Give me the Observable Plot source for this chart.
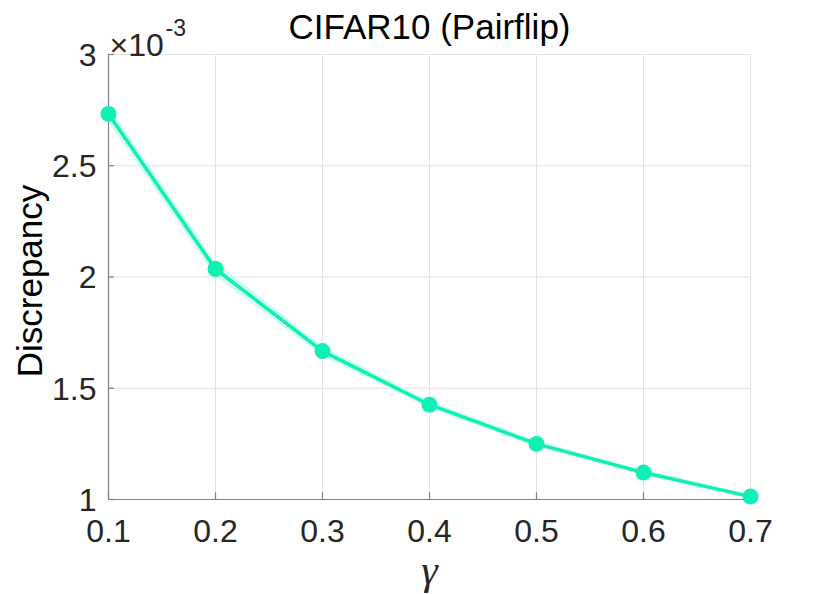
<!DOCTYPE html>
<html>
<head>
<meta charset="utf-8">
<script src="https://cdn.jsdelivr.net/npm/d3@7"></script>
<script src="https://cdn.jsdelivr.net/npm/@observablehq/plot@0.6"></script>
<style>
  html, body { margin: 0; padding: 0; background: #fff; }
</style>
</head>
<body>
<div id="chart"></div>
<script>
// Data (values in units of 1e-3)
const gamma = [0.1, 0.2, 0.3, 0.4, 0.5, 0.6, 0.7];
const discrepancy = [2.733, 2.036, 1.667, 1.426, 1.250, 1.121, 1.013];
const bandLow = [2.698, 2.004, 1.645, 1.410, 1.237, 1.110, 1.004];
const bandHigh = [2.768, 2.068, 1.689, 1.442, 1.263, 1.132, 1.022];
const xTicks = [0.1, 0.2, 0.3, 0.4, 0.5, 0.6, 0.7];
const yTicks = [1, 1.5, 2, 2.5, 3];
const titleText = "CIFAR10 (Pairflip)";
const yLabel = "Discrepancy";
const xLabel = "γ";

const data = gamma.map((g, i) => ({g, v: discrepancy[i], lo: bandLow[i], hi: bandHigh[i]}));

const lineColor = "#0ff0b4";
const axisColor = "#7f7f7f";
const gridColor = "#e3e3e3";
const textColor = "#262626";

const chart = Plot.plot({
  width: 830,
  height: 594,
  marginLeft: 108,
  marginRight: 80,
  marginTop: 54,
  marginBottom: 95,
  style: {fontFamily: "'Liberation Sans', Arial, sans-serif", fontSize: "32px", color: textColor, background: "#fff"},
  x: {domain: [0.1, 0.7]},
  y: {domain: [1, 3]},
  marks: [
    // grid
    Plot.ruleX(xTicks.slice(1), {stroke: gridColor, strokeWidth: 1}),
    Plot.ruleY(yTicks.slice(1), {stroke: gridColor, strokeWidth: 1}),
    // axis lines
    Plot.ruleX([0.1], {stroke: axisColor, strokeWidth: 1.2}),
    Plot.ruleY([1], {stroke: axisColor, strokeWidth: 1.2}),
    // inward ticks
    Plot.ruleX(xTicks, {x: d => d, y1: 1, y2: 1.03, stroke: axisColor, strokeWidth: 1.2}),
    Plot.ruleY(yTicks, {y: d => d, x1: 0.1, x2: 0.1056, stroke: axisColor, strokeWidth: 1.2}),
    // tick labels
    Plot.axisX(xTicks, {tickSize: 0, tickPadding: 20, fontSize: 32, fill: textColor, label: null, tickFormat: d => String(d)}),
    Plot.axisY(yTicks, {tickSize: 0, tickPadding: 12, fontSize: 32, fill: textColor, label: null, tickFormat: d => String(d), dy: 1}),
    // band
    Plot.areaY(data, {x: "g", y1: "lo", y2: "hi", fill: "#cbf9f1", fillOpacity: 0.9}),
    // line and markers
    Plot.line(data, {x: "g", y: "v", stroke: lineColor, strokeWidth: 3.5}),
    Plot.dot(data, {x: "g", y: "v", r: 8, fill: lineColor, stroke: "none"}),
    // title
    Plot.text([titleText], {frameAnchor: "top", dy: -40, fontSize: 35, fill: "#000", text: d => d}),
    // exponent
    Plot.text(["×10"], {frameAnchor: "top-left", textAnchor: "start", dx: 1, dy: -21, fontSize: 32, fill: textColor, text: d => d}),
    Plot.text(["-3"], {frameAnchor: "top-left", textAnchor: "start", dx: 57, dy: -35, fontSize: 23, fill: textColor, text: d => d}),
    // y label
    Plot.text([yLabel], {frameAnchor: "left", textAnchor: "middle", rotate: -90, dx: -78, dy: 4, fontSize: 35, fill: "#000", text: d => d}),
    // x label
    Plot.text([xLabel], {frameAnchor: "bottom", dy: 84, fontSize: 42, fill: textColor, fontStyle: "italic", fontFamily: "'Liberation Serif', 'DejaVu Serif', serif", text: d => d})
  ]
});

document.getElementById("chart").appendChild(chart);
</script>
</body>
</html>
